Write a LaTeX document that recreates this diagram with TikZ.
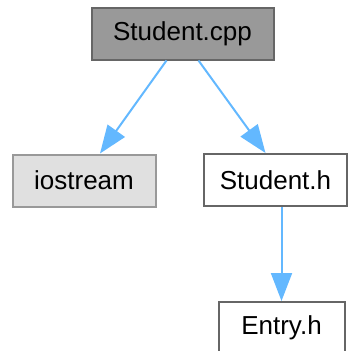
\documentclass[tikz,border=0pt]{standalone}
\usepackage{fontspec}
\setmainfont{Liberation Sans}
\usepackage{tikz}
\usetikzlibrary{arrows.meta,positioning}
\definecolor{edgeblue}{HTML}{63B8FF}
\tikzset{
    >={Triangle[length=28pt,width=21pt]},
    file/.style={rectangle,draw=black!60,line width=2pt,minimum height=52pt,inner sep=0pt,
        font=\fontsize{26pt}{30pt}\selectfont},
    edge/.style={->,draw=edgeblue,fill=edgeblue,line width=2pt}
}
\begin{document}
\begin{tikzpicture}[x=1pt,y=-1pt]
    \useasboundingbox (0,0) rectangle (348,351);

    % files
    \node[file,fill=black!40,minimum width=182pt] (cpp) at (182.5,33.5) {Student.cpp};
    \node[file,draw=black!40,fill=black!12,minimum width=143pt] (iostream) at (84,180.5) {iostream};
    \node[file,fill=white,minimum width=143pt] (studenth) at (275.5,180) {Student.h};
    \node[file,fill=white,minimum width=126pt] (entryh) at (281.5,328) {Entry.h};

    % includes
    \draw[edge] ([xshift=-16pt]cpp.south) -- ([xshift=16pt]iostream.north);
    \draw[edge] ([xshift=16pt]cpp.south) -- ([xshift=-10pt]studenth.north);
    \draw[edge] ([xshift=6pt]studenth.south) -- (entryh.north);
\end{tikzpicture}
\end{document}
